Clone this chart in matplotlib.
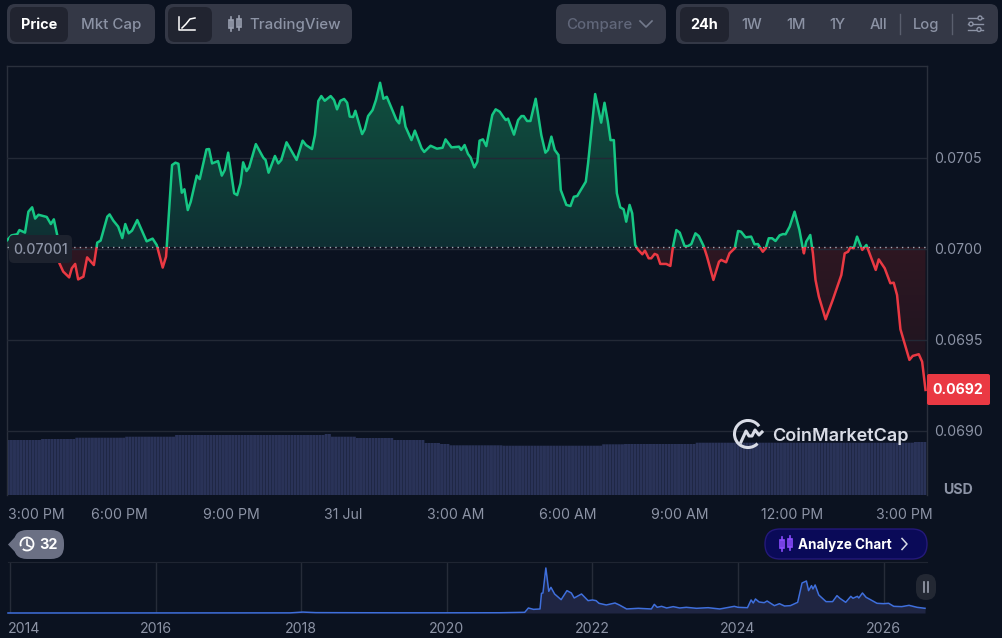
import numpy as np
import matplotlib
matplotlib.use("Agg")
import matplotlib.pyplot as plt
from matplotlib.patches import FancyBboxPatch, Rectangle, Arc, Circle

plt.rcParams['font.family'] = ['Inter', 'DejaVu Sans']

#%%
#data
#hours after 3:00 PM
hours = [0.00, 0.13, 0.28, 0.34, 0.49, 0.58, 0.68, 0.76, 0.85, 1.07, 1.18, 1.26, 1.35, 1.41, 1.51, 1.67, 1.74, 1.83, 1.91, 2.05,
         2.15, 2.33, 2.42, 2.51, 2.69, 2.75, 2.85, 2.98, 3.09, 3.17, 3.26, 3.35, 3.49, 3.74, 3.90, 4.01, 4.17, 4.26, 4.42, 4.51,
         4.59, 4.68, 4.75, 4.84, 4.92, 5.08, 5.16, 5.34, 5.41, 5.49, 5.65, 5.75, 5.83, 5.92, 6.08, 6.16, 6.25, 6.32, 6.41, 6.48,
         6.66, 6.86, 6.92, 7.00, 7.17, 7.26, 7.34, 7.48, 7.75, 7.91, 8.00, 8.16, 8.24, 8.33, 8.41, 8.50, 8.66, 8.75, 8.83, 8.92,
         9.02, 9.10, 9.17, 9.26, 9.32, 9.50, 9.57, 9.66, 9.78, 9.87, 9.98, 10.07, 10.16, 10.42, 10.49, 10.57, 10.66, 10.82, 10.91, 11.09,
         11.16, 11.33, 11.50, 11.65, 11.73, 11.89, 12.09, 12.15, 12.24, 12.33, 12.40, 12.50, 12.58, 12.64, 12.73, 12.82, 12.98, 13.07, 13.18, 13.27,
         13.34, 13.40, 13.56, 13.67, 13.76, 13.82, 13.91, 14.00, 14.14, 14.29, 14.40, 14.47, 14.56, 14.65, 14.75, 14.81, 14.96, 15.07, 15.16, 15.25,
         15.48, 15.54, 15.73, 15.89, 15.98, 16.07, 16.14, 16.23, 16.31, 16.40, 16.49, 16.56, 16.65, 16.72, 16.80, 16.88, 16.99, 17.06, 17.16, 17.23,
         17.32, 17.39, 17.47, 17.63, 17.74, 17.81, 17.90, 17.99, 18.12, 18.21, 18.30, 18.41, 18.50, 18.63, 18.72, 18.89, 19.04, 19.10, 19.23, 19.32,
         19.46, 19.55, 19.63, 19.75, 19.90, 19.99, 20.08, 20.21, 20.29, 20.37, 20.46, 20.55, 20.66, 20.75, 20.82, 20.93, 21.06, 21.19, 21.28, 21.31,
         21.37, 21.48, 21.55, 21.62, 21.71, 21.89, 22.08, 22.31, 22.40, 22.49, 22.55, 22.64, 22.73, 22.87, 22.98, 23.23, 23.31, 23.47, 23.62, 23.71,
         23.80, 23.89, 24.13, 24.22, 24.38, 24.47, 24.56]
price = [0.070046, 0.070075, 0.070081, 0.070104, 0.070090, 0.070205, 0.070229, 0.070167, 0.070188, 0.070176, 0.070137, 0.070163, 0.070077, 0.069921, 0.069876, 0.069844, 0.069894, 0.069918, 0.069833, 0.069848,
         0.069954, 0.069912, 0.070035, 0.070046, 0.070178, 0.070190, 0.070156, 0.070123, 0.070060, 0.070137, 0.070086, 0.070101, 0.070159, 0.070042, 0.070057, 0.070022, 0.069898, 0.069958, 0.070461, 0.070474,
         0.070468, 0.070309, 0.070328, 0.070214, 0.070260, 0.070403, 0.070384, 0.070547, 0.070549, 0.070470, 0.070483, 0.070403, 0.070434, 0.070529, 0.070306, 0.070296, 0.070361, 0.070476, 0.070428, 0.070448,
         0.070576, 0.070501, 0.070489, 0.070419, 0.070511, 0.070470, 0.070489, 0.070586, 0.070489, 0.070595, 0.070571, 0.070549, 0.070626, 0.070813, 0.070840, 0.070814, 0.070840, 0.070818, 0.070767, 0.070814,
         0.070824, 0.070803, 0.070727, 0.070725, 0.070759, 0.070631, 0.070657, 0.070730, 0.070763, 0.070818, 0.070913, 0.070825, 0.070836, 0.070708, 0.070690, 0.070781, 0.070672, 0.070598, 0.070650, 0.070553,
         0.070533, 0.070567, 0.070551, 0.070556, 0.070602, 0.070558, 0.070562, 0.070544, 0.070571, 0.070522, 0.070503, 0.070448, 0.070479, 0.070595, 0.070602, 0.070565, 0.070736, 0.070767, 0.070754, 0.070727,
         0.070708, 0.070716, 0.070628, 0.070708, 0.070730, 0.070730, 0.070703, 0.070703, 0.070825, 0.070626, 0.070529, 0.070544, 0.070617, 0.070544, 0.070516, 0.070324, 0.070242, 0.070236, 0.070287, 0.070291,
         0.070370, 0.070470, 0.070851, 0.070694, 0.070803, 0.070699, 0.070598, 0.070598, 0.070306, 0.070229, 0.070218, 0.070150, 0.070242, 0.070196, 0.070022, 0.069995, 0.069971, 0.069991, 0.069949, 0.069949,
         0.069973, 0.069967, 0.069918, 0.069918, 0.069907, 0.070013, 0.070104, 0.070090, 0.070016, 0.070016, 0.070027, 0.070086, 0.070071, 0.070016, 0.069958, 0.069830, 0.069930, 0.069940, 0.069927, 0.069976,
         0.070004, 0.070099, 0.070095, 0.070064, 0.070068, 0.070026, 0.070027, 0.069985, 0.070004, 0.070059, 0.070059, 0.070044, 0.070075, 0.070082, 0.070081, 0.070123, 0.070205, 0.070104, 0.070004, 0.069976,
         0.070040, 0.070077, 0.069976, 0.069830, 0.069738, 0.069614, 0.069720, 0.069857, 0.069976, 0.069985, 0.070009, 0.070004, 0.070068, 0.069995, 0.070022, 0.069885, 0.069943, 0.069894, 0.069812, 0.069815,
         0.069747, 0.069559, 0.069391, 0.069413, 0.069422, 0.069381, 0.069226]
open_price = 0.07001

#volume in billions USD, runs of 5 minute bars
vol_runs = [11, 11, 16, 16, 48, 2, 8, 12, 10, 5, 3, 17, 32, 7, 23, 70, 4]
vol_levels = [5.5, 5.6, 5.73, 5.83, 6.0, 6.1, 5.83, 5.7, 5.5, 5.2, 5.1, 4.97, 4.93, 5.07, 5.1, 5.23, 5.3]

#all time history, year and price
all_years = [2013.97, 2017.85, 2018.02, 2018.2, 2018.5, 2018.85, 2019.3, 2020.0, 2020.73, 2021.07, 2021.12, 2021.19, 2021.28, 2021.30, 2021.32, 2021.36,
             2021.40, 2021.43, 2021.48, 2021.57, 2021.65, 2021.71, 2021.75, 2021.85, 2021.94, 2022.00, 2022.05, 2022.09, 2022.19, 2022.31, 2022.37, 2022.47,
             2022.63, 2022.81, 2022.85, 2022.89, 2022.95, 2023.02, 2023.11, 2023.20, 2023.29, 2023.43, 2023.59, 2023.75, 2023.95, 2024.00, 2024.13, 2024.18,
             2024.21, 2024.24, 2024.29, 2024.36, 2024.40, 2024.50, 2024.57, 2024.64, 2024.72, 2024.82, 2024.88, 2024.94, 2024.97, 2025.01, 2025.03, 2025.06,
             2025.11, 2025.21, 2025.30, 2025.36, 2025.40, 2025.48, 2025.55, 2025.58, 2025.64, 2025.66, 2025.71, 2025.76, 2025.82, 2025.91, 2026.00, 2026.07,
             2026.14, 2026.25, 2026.35, 2026.46, 2026.57]
all_price = [0.0, 0.002, 0.015, 0.006, 0.005, 0.004, 0.003, 0.003, 0.004, 0.011, 0.081, 0.059, 0.065, 0.319, 0.324, 0.729,
             0.351, 0.416, 0.308, 0.216, 0.362, 0.324, 0.243, 0.308, 0.200, 0.211, 0.200, 0.157, 0.130, 0.162, 0.130, 0.065,
             0.076, 0.065, 0.140, 0.092, 0.108, 0.081, 0.103, 0.081, 0.092, 0.076, 0.086, 0.065, 0.108, 0.092, 0.086, 0.211,
             0.162, 0.227, 0.178, 0.167, 0.194, 0.119, 0.151, 0.113, 0.119, 0.173, 0.486, 0.518, 0.362, 0.443, 0.389, 0.454,
             0.292, 0.184, 0.184, 0.281, 0.238, 0.173, 0.270, 0.238, 0.270, 0.243, 0.324, 0.254, 0.216, 0.157, 0.151, 0.157,
             0.108, 0.103, 0.124, 0.092, 0.076]

price_ticks = [0.0690, 0.0695, 0.0700, 0.0705]
time_ticks = [0, 3, 6, 9, 12, 15, 18, 21, 24]
time_labels = ['3:00 PM', '6:00 PM', '9:00 PM', '31 Jul', '3:00 AM', '6:00 AM', '9:00 AM', '12:00 PM', '3:00 PM']
year_ticks = [2014, 2016, 2018, 2020, 2022, 2024, 2026]

#colours
bg = '#0b1220'
green = '#16c784'
red = '#ea3943'
grid = '#232936'
grey = '#8c93a5'
btn = '#343846'
btn_on = '#212430'

#%%
fig = plt.figure(figsize=(10.02, 6.38), dpi=100, facecolor=bg)
W, H = 1002, 638

def px_axes(x0, y0, x1, y1):
    a = fig.add_axes([x0 / W, (H - y1) / H, (x1 - x0) / W, (y1 - y0) / H])
    a.set_facecolor('none')
    return a

#main price chart
ax = px_axes(6.7, 66, 927, 495)
ax.set_xlim(0, 24.6)
ax.set_ylim(0.068649, 0.071005)

#volume behind the price
vol_ax = px_axes(6.7, 66, 927, 495)
vol_ax.set_xlim(0, 24.6)
vol_ax.set_ylim(0, 42.9)
vol_ax.axis('off')
volume = np.repeat(vol_levels, vol_runs)
vol_x = (np.arange(len(volume)) + 0.5) / 12
vol_bars = vol_ax.bar(vol_x, volume, width=0.079, color='#2a3358', linewidth=0)
for b in vol_bars:
    b.set_snap(False)
vol_ax.set_zorder(1)
ax.set_zorder(2)

for s in ['left', 'top', 'right']:
    ax.spines[s].set_color('#2a303c')
    ax.spines[s].set_linewidth(1)
ax.spines['bottom'].set_visible(False)
ax.tick_params(length=0, labelbottom=False, labelleft=False)
ax.set_yticks(price_ticks)
ax.set_xticks([])
ax.grid(True, axis='y', color=grid, linewidth=1)
ax.set_axisbelow(False)

#areas with a gradient, cut to the shape between price and the open
area = ax.fill_between(hours, price, open_price, linewidth=0)
area_path = area.get_paths()[0]
area.set_visible(False)

def gradient(c_top, c_bottom, y0, y1):
    c_top = np.array(matplotlib.colors.to_rgb(c_top))
    c_bottom = np.array(matplotlib.colors.to_rgb(c_bottom))
    f = np.linspace(0, 1, 200)[:, None]
    img = ax.imshow((c_top * (1 - f) + c_bottom * f)[:, None, :], extent=[0, 24.6, y0, y1],
                    aspect='auto', origin='upper', zorder=1, interpolation='bilinear')
    img.set_clip_path(area_path, transform=ax.transData)

gradient('#10503f', '#0e2f33', open_price, max(price))
gradient('#2e1722', '#1c1420', min(price), open_price)
ax.set_xlim(0, 24.6)
ax.set_ylim(0.068649, 0.071005)

#same line twice, each kept to its own side of the open price
up = ax.plot(hours, price, color=green, linewidth=1.8, zorder=3, solid_joinstyle='round')[0]
up.set_clip_path(Rectangle((0, open_price), 24.6, 0.002, transform=ax.transData))
down = ax.plot(hours, price, color=red, linewidth=1.8, zorder=3, solid_joinstyle='round')[0]
down.set_clip_path(Rectangle((0, open_price - 0.002), 24.6, 0.002, transform=ax.transData))

ax.axhline(open_price, color='#a4aab5', linewidth=1, linestyle=(0, (1, 3)), zorder=4)

for p in price_ticks:
    ax.annotate(f'{p:.4f}', xy=(1, p), xycoords=('axes fraction', 'data'), xytext=(7, -1),
                textcoords='offset pixels', color=grey, fontsize=10.2, va='center', ha='left')

for t, lab in zip(time_ticks, time_labels):
    ax.annotate(lab, xy=(t, 0), xycoords=('data', 'axes fraction'), xytext=(1 if t == 0 else 0, -20),
                textcoords='offset pixels', color=grey, fontsize=10.2, va='center',
                ha='left' if t == 0 else 'center')

#overview chart
ov = px_axes(8, 562, 926.5, 613)
ov.set_xlim(2013.97, 2026.59)
ov.set_ylim(0, 0.826)
for s in ov.spines.values():
    s.set_visible(False)
ov.spines['top'].set_visible(True)
ov.spines['top'].set_color('#1f2532')
ov.tick_params(length=0, labelbottom=False, labelleft=False)
ov.set_yticks([])
ov.set_xticks(year_ticks)
ov.grid(True, axis='x', color='#262c39', linewidth=1)
ov.set_axisbelow(True)
ov.fill_between(all_years, all_price, 0, color='#1f2542', linewidth=0)
ov.plot(all_years, all_price, color='#3f6fdc', linewidth=1.1, clip_on=False)
for y in year_ticks:
    ov.annotate(str(y), xy=(y, 0), xycoords=('data', 'axes fraction'), xytext=(-2 if y == 2014 else 0, -16),
                textcoords='offset pixels', color=grey, fontsize=10.2, va='center',
                ha='left' if y == 2014 else 'center')

#%%
#everything else is page furniture, drawn in pixel coordinates
ui = fig.add_axes([0, 0, 1, 1], zorder=5)
ui.set_xlim(0, W)
ui.set_ylim(H, 0)
ui.axis('off')

def box(x0, y0, x1, y1, color, r=8, edge='none', z=1):
    ui.add_patch(FancyBboxPatch((x0 + r, y0 + r), x1 - x0 - 2 * r, y1 - y0 - 2 * r,
                                boxstyle=f'round,pad={r},rounding_size={r}',
                                facecolor=color, edgecolor=edge, linewidth=1, zorder=z))

def label(x, y, s, color=grey, size=10.2, weight='medium', ha='center', z=3):
    ui.text(x, y + 1, s, color=color, fontsize=size, fontweight=weight, ha=ha, va='center', zorder=z)

def candles(x, y, color, lw=1.2, z=3):
    for dx, top, bot in [(-4, 4, 4), (4, 5, 3)]:
        ui.plot([x + dx, x + dx], [y - top - 3, y + bot + 3], color=color, linewidth=lw, zorder=z)
        ui.add_patch(Rectangle((x + dx - 2.3, y - top), 4.6, top + bot, facecolor='none',
                               edgecolor=color, linewidth=lw, zorder=z))

box(7, 4, 155, 44, btn)
box(10, 7, 68, 42, btn_on, r=7, z=2)
label(39, 24, 'Price', 'white', 10.4, 'bold')
label(111, 24, 'Mkt Cap', grey, 10.8)

box(165, 4, 352, 44, btn)
box(168, 7, 212, 42, btn_on, r=7, z=2)
ui.plot([179.5, 179.5, 195], [17, 30, 30], color='white', linewidth=1.1, zorder=3)
ui.plot([182, 186, 190, 195], [28, 24, 19, 18], color='white', linewidth=1.1, zorder=3)
candles(235, 24, '#9aa0b0')
label(295, 24, 'TradingView', grey, 10.8)

box(556, 4, 666, 44, btn)
label(599, 24, 'Compare', '#61677a', 10.8)
ui.plot([640, 646, 652], [21, 27, 21], color='#737a8c', linewidth=1.2, zorder=3)

box(676, 4, 998, 44, btn)
box(680, 7, 729, 42, btn_on, r=7, z=2)
label(704, 24, '24h', 'white', 10.4, 'bold')
for x, s in [(752, '1W'), (796, '1M'), (837, '1Y'), (878, 'All'), (926, 'Log')]:
    label(x, 24, s, grey, 10.6)
for x in [900, 952]:
    ui.plot([x, x], [14, 34], color='#5a5f6e', linewidth=1, zorder=3)
for y, cx in [(18, 980), (24, 971), (29.5, 979)]:
    ui.plot([968, 983], [y, y], color='#8c93a5', linewidth=1, zorder=3)
    ui.add_patch(Circle((cx, y), 2, facecolor=btn, edgecolor='#8c93a5', linewidth=1, zorder=4))

#open price and last price tags
box(9, 235, 72, 263, '#1d222e', r=5)
label(40.5, 249, '0.07001', grey, 10.2)
box(927, 374, 990, 405, red, r=2)
label(958, 389.5, '0.0692', 'white', 10.2, 'bold')
label(958, 488.5, 'USD', grey, 10.2, 'bold')

#history pill
box(14, 530, 64, 559, '#6b7084', r=13)
ui.fill([8, 16, 16], [544.5, 536, 553], color='#6b7084', linewidth=0, zorder=1)
ui.add_patch(Arc((27, 544), 13, 13, theta1=-200, theta2=130, color='white', linewidth=1.3, zorder=3))
ui.plot([27, 27, 31], [540, 545, 547], color='white', linewidth=1.2, zorder=3)
label(48, 544, '32', 'white', 10.4, 'bold')

#analyze button
box(765, 529, 927, 559, '#0a0a58', r=15, edge='#24197a')
candles(786, 544, '#8b4dff', lw=1.2)
label(844.5, 543.5, 'Analyze Chart', 'white', 9.7, 'bold')
ui.plot([902, 907, 902], [538.5, 544, 549.5], color='#d8dbe6', linewidth=1.1, zorder=3)

#pause button on the overview
box(916, 574, 936, 600, '#232833', r=10)
for x in [924, 928]:
    ui.plot([x, x], [582, 592], color='#9aa0ae', linewidth=1.2, zorder=3)

#watermark
logo = '#d9dce6'
ui.add_patch(Arc((748, 434), 27, 27, theta1=45, theta2=325, color=logo, linewidth=2.2, zorder=3))
ui.plot([741, 746, 749, 752, 755, 759, 762], [442, 431, 436, 436, 430, 435, 432], color=logo, linewidth=2.2, zorder=3)
label(772, 435, 'CoinMarketCap', logo, 13, 'semibold', ha='left')

fig.savefig('out.png', dpi=100, facecolor=bg)
